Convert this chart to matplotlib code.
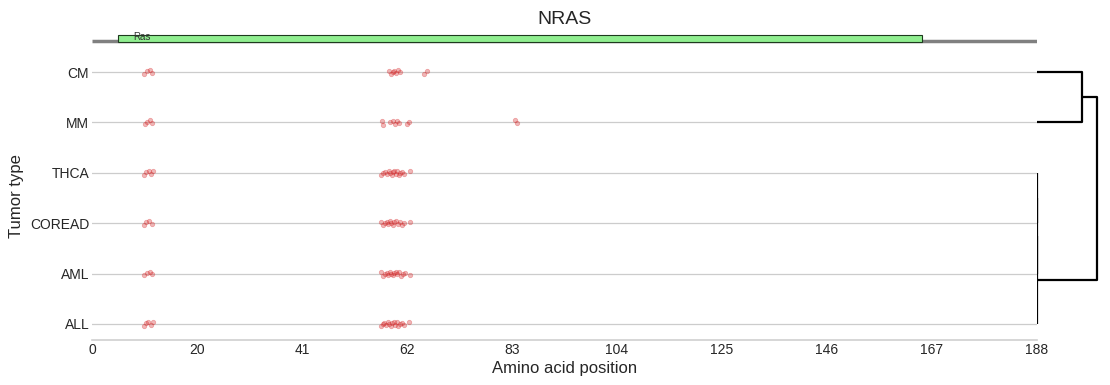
import numpy as np
import matplotlib
matplotlib.use('Agg')
import matplotlib.pyplot as plt
from matplotlib.patches import Rectangle

plt.rcParams['font.family'] = ['Liberation Sans', 'DejaVu Sans']

###############################################################
#                         DATA                                #
###############################################################
gene = 'NRAS'
protein_length = 188
domain_name = 'Ras'
domain_start = 5.2
domain_end = 165.1

# rows from bottom to top
tumor_types = ['ALL', 'AML', 'COREAD', 'THCA', 'MM', 'CM']

# mutated amino acid positions per tumor type
pos_ALL = [10.3, 10.7, 11.2, 11.7, 12.1,
           57.4, 57.8, 58.1, 58.5, 58.8, 59.1, 59.4, 59.7, 60.0, 60.3,
           60.6, 60.9, 61.2, 61.6, 62.0, 63.1]
pos_AML = [10.4, 10.9, 11.5, 11.9,
           57.4, 57.9, 58.3, 58.6, 58.9, 59.2, 59.5, 59.8, 60.1, 60.4,
           60.7, 61.0, 61.4, 61.8, 62.2, 63.3]
pos_COREAD = [10.4, 10.8, 11.4, 11.9,
              57.5, 57.9, 58.2, 58.6, 58.9, 59.2, 59.5, 59.8, 60.1, 60.4,
              60.8, 61.2, 61.6, 62.0, 63.2]
pos_THCA = [10.4, 10.8, 11.3, 11.8, 12.1,
            57.4, 57.8, 58.3, 58.7, 59.0, 59.3, 59.6, 59.9, 60.1, 60.4,
            60.7, 61.0, 61.3, 61.7, 62.1, 63.2]
pos_MM = [10.5, 11.0, 11.6, 12.0,
          57.6, 57.9, 59.3, 59.8, 60.2, 60.6, 61.0, 62.6, 63.0,
          84.2, 84.6]
pos_CM = [10.4, 10.9, 11.6, 12.0,
          59.0, 59.4, 59.8, 60.1, 60.5, 60.9, 61.3,
          66.1, 66.6]
positions = [pos_ALL, pos_AML, pos_COREAD, pos_THCA, pos_MM, pos_CM]

# dendrogram merges (row a, row b, height); rows are indices in tumor_types,
# new clusters get index len(tumor_types)+k
links = [(3, 2, 0.0),   # THCA + COREAD
         (6, 1, 0.0),   # + AML
         (7, 0, 0.0),   # + ALL
         (5, 4, 0.75),  # CM + MM
         (9, 8, 1.0)]   # root

# small vertical jitter pattern for the strip points
jit = [-0.035, 0.015, 0.04, -0.015, 0.03, -0.04, 0.0, 0.02, -0.025, 0.035, -0.005]

###############################################################
#                         FIGURE                              #
###############################################################
W, H = 1110., 385.
fig = plt.figure(figsize=(W / 100, H / 100), dpi=100)

def box(l, t, r, b):
    return [l / W, 1 - b / H, (r - l) / W, (b - t) / H]

ax = fig.add_axes(box(92, 52, 1037, 340))
ax_dom = fig.add_axes(box(92, 32, 1037, 45), sharex=ax)
ax_den = fig.add_axes(box(1037, 52, 1100, 340), sharey=ax)

red = '#d62728'
for i, xs in enumerate(positions):
    ys = [i + jit[k % len(jit)] for k in range(len(xs))]
    ax.scatter(xs, ys, s=10, color=red, alpha=0.33, linewidths=0.6,
               edgecolors=red, zorder=3)

ax.set_xlim(0, protein_length)
ax.set_ylim(-0.32, len(tumor_types) - 0.6)
xt = np.linspace(0, protein_length, 10)
ax.set_xticks(xt)
ax.set_xticklabels([str(int(v)) for v in xt])
ax.set_yticks(range(len(tumor_types)))
ax.set_yticklabels(tumor_types)
ax.tick_params(length=0, labelsize=10, labelcolor='#262626', pad=2)
ax.grid(axis='y', color='#cccccc', lw=0.9)
ax.grid(axis='x', visible=False)
for s in ['top', 'right', 'left']:
    ax.spines[s].set_visible(False)
ax.spines['bottom'].set_color('#d0d0d0')
ax.spines['bottom'].set_linewidth(1.2)
ax.set_xlabel('Amino acid position', fontsize=12, color='#262626', labelpad=3)
ax.set_ylabel('Tumor type', fontsize=12, color='#262626', labelpad=4)

# protein / domain track
ax_dom.axis('off')
ax_dom.set_ylim(0, 1)
ax_dom.plot([0, protein_length], [0.27, 0.27], color='#808080', lw=2.5,
            solid_capstyle='butt', zorder=1)
ax_dom.add_patch(Rectangle((domain_start, 0.2), domain_end - domain_start, 0.57,
                           facecolor='#90ee90', edgecolor='#1e3a1e', lw=0.8,
                           zorder=2))
ax_dom.text(domain_start + 3, 0.58, domain_name, fontsize=7, va='center',
            ha='left', color='#333333', zorder=3)
ax_dom.set_title(gene, fontsize=14, color='#262626', pad=6)

# dendrogram
node_y = {i: float(i) for i in range(len(tumor_types))}
node_h = {i: 0.0 for i in range(len(tumor_types))}
for k, (a, b, h) in enumerate(links):
    ya, yb = node_y[a], node_y[b]
    ax_den.plot([node_h[a], h, h, node_h[b]], [ya, ya, yb, yb],
                color='black', lw=1.6, solid_capstyle='butt')
    node_y[len(tumor_types) + k] = (ya + yb) / 2
    node_h[len(tumor_types) + k] = h
ax_den.set_xlim(0, 1.05 * max(l[2] for l in links))
ax_den.axis('off')

plt.savefig('out.png', dpi=100)
